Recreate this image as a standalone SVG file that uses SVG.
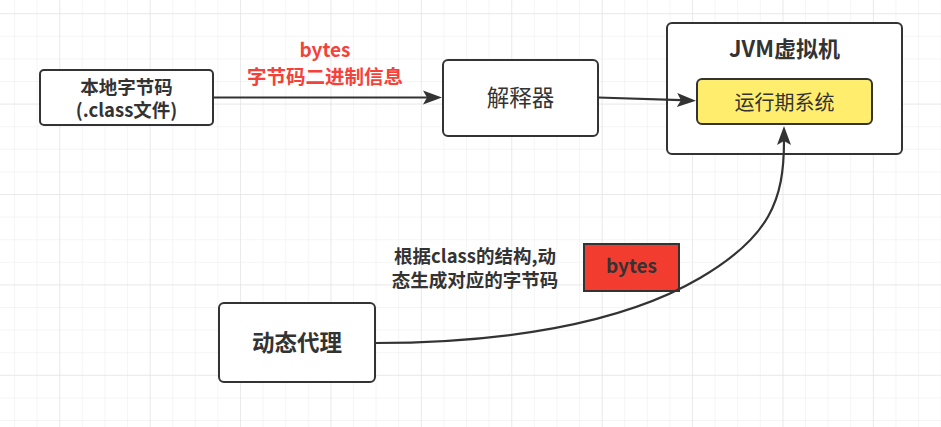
<svg xmlns="http://www.w3.org/2000/svg" width="941" height="427" viewBox="0 0 941 427">
  <defs>
    <pattern id="minor" patternUnits="userSpaceOnUse" x="14" y="13.2" width="22.6" height="22.6">
      <path d="M0,0 H22.6 M0,0 V22.6" fill="none" stroke="#ececec" stroke-width="1"/>
    </pattern>
    <pattern id="major" patternUnits="userSpaceOnUse" x="59.3" y="13.2" width="90.4" height="90.4">
      <path d="M0,0 H90.4 M0,0 V90.4" fill="none" stroke="#e0e0e0" stroke-width="1"/>
    </pattern>
    <marker id="arrow" markerUnits="userSpaceOnUse" markerWidth="20" markerHeight="14" refX="4" refY="7" orient="auto" overflow="visible">
      <path d="M0,0 L19,7 L0,14 L4,7 Z" fill="#333333"/>
    </marker>
  </defs>
  <style>
    .box { fill: #ffffff; stroke: #333333; stroke-width: 2; }
    .t { font-family: "Noto Sans CJK SC", "Noto Sans", sans-serif; fill: #333333; text-anchor: middle; }
    .b { font-weight: bold; }
    .red { fill: #f5413a; font-weight: bold; }
    .edge { fill: none; stroke: #333333; stroke-width: 2.2; }
  </style>
  <rect width="941" height="427" fill="#ffffff"/>
  <g id="grid">
    <rect width="941" height="427" fill="url(#minor)"/>
    <rect width="941" height="427" fill="url(#major)"/>
  </g>

  <g id="node-jvm">
    <rect class="box" x="667" y="23" width="235" height="131" rx="5"/>
    <text class="t b" x="784.5" y="57" font-size="22">JVM虚拟机</text>
  </g>

  <g id="node-runtime">
    <rect x="697" y="79" width="175" height="45" rx="5" fill="#ffee6e" stroke="#333333" stroke-width="2"/>
    <text class="t" x="784.5" y="110" font-size="20">运行期系统</text>
  </g>

  <g id="node-local">
    <rect class="box" x="40" y="70" width="173" height="55" rx="4"/>
    <text class="t b" x="126.5" y="93.5" font-size="18.5">本地字节码</text>
    <text class="t b" x="126.5" y="117" font-size="18.5">(.class文件)</text>
  </g>

  <g id="node-interpreter">
    <rect class="box" x="443" y="60" width="155" height="76" rx="5"/>
    <text class="t" x="520.5" y="106" font-size="22.5">解释器</text>
  </g>

  <g id="node-bytes">
    <rect x="584" y="244" width="95" height="47" fill="#f33c30" stroke="#333333" stroke-width="2"/>
    <text class="t b" x="631.5" y="273" font-size="19">bytes</text>
  </g>

  <g id="node-proxy">
    <rect class="box" x="219" y="303" width="156" height="79" rx="5"/>
    <text class="t b" x="297" y="351" font-size="22.5">动态代理</text>
  </g>

  <g id="label-bytes-top">
    <text class="t red" x="325" y="57" font-size="19">bytes</text>
    <text class="t red" x="325" y="84" font-size="19.5">字节码二进制信息</text>
  </g>

  <g id="label-dynamic">
    <text class="t b" x="475" y="263" font-size="18.5">根据class的结构,动</text>
    <text class="t b" x="475" y="287" font-size="18.5">态生成对应的字节码</text>
  </g>

  <g id="connectors">
    <path class="edge" d="M213,97.5 L427,97.5" marker-end="url(#arrow)"/>
    <path class="edge" d="M598,97.5 L681,100.2" marker-end="url(#arrow)"/>
    <path class="edge" d="M375,343 C500,343 620,325 700,278 C770,237 784,200 784,141" marker-end="url(#arrow)"/>
  </g>
</svg>
